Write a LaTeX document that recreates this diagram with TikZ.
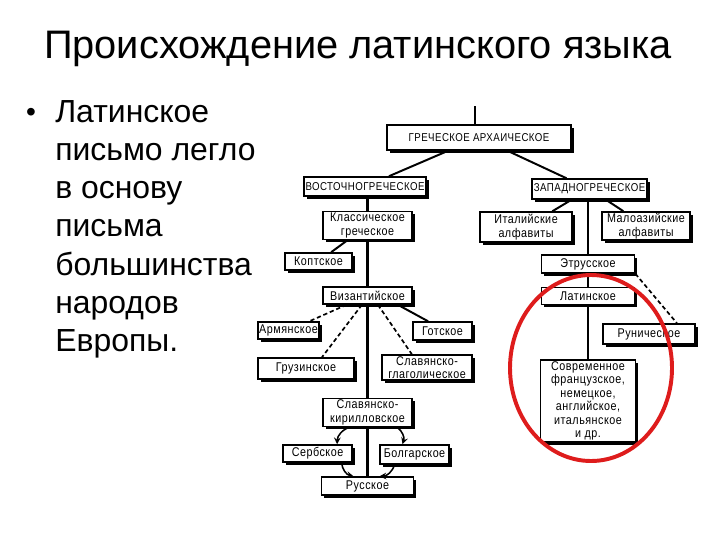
\documentclass[tikz,border=0pt]{standalone}
\usepackage{fontspec}
\setmainfont{Liberation Sans}
\newfontfamily\boxfont[FakeStretch=0.85,LetterSpace=4]{Liberation Sans}
\usetikzlibrary{shadows}
\definecolor{ring}{RGB}{222,28,28}

\begin{document}
\begin{tikzpicture}[x=0.025cm, y=-0.025cm,
  box/.style={draw, fill=white, line width=1pt, align=center, inner sep=1pt,
    font=\boxfont\fontsize{9}{9.6}\selectfont,
    drop shadow={shadow xshift=0.07cm, shadow yshift=-0.07cm, fill=black, opacity=1}},
  capsbox/.style={box, font=\boxfont\fontsize{8.1}{9.6}\selectfont},
  link/.style={line width=1.4pt},
  trunk/.style={line width=2pt},
  loan/.style={line width=1.2pt, dash pattern=on 3pt off 2pt},
  arrow/.style={->, line width=1.1pt, >=stealth}
]
  \useasboundingbox (0,0) rectangle (720,540);

  % Title and text
  \node[font=\fontsize{28.3}{32}\selectfont] (title) at (358,49) {Происхождение латинского языка};
  \node[font=\fontsize{20}{20}\selectfont] (dot) at (31,115) {•};
  \node[font=\fontsize{22.7}{27.2}\selectfont, anchor=north west, align=left, inner sep=0] (text) at (55,100)
    {Латинское\\письмо легло\\в основу\\письма\\большинства\\народов\\Европы.};

  % Greek
  \coordinate (root) at (475,106);
  \node[capsbox, minimum width=4.6cm, minimum height=0.63cm] (arch) at (479,137.5) {ГРЕЧЕСКОЕ АРХАИЧЕСКОЕ};
  \node[capsbox, minimum width=3cm, minimum height=0.48cm] (east) at (365,186.5) {ВОСТОЧНОГРЕЧЕСКОЕ};
  \node[capsbox, minimum width=2.88cm, minimum height=0.5cm] (west) at (589.5,189) {ЗАПАДНОГРЕЧЕСКОЕ};

  % Eastern branch
  \node[box, minimum width=2.22cm, minimum height=0.68cm] (classic) at (367.5,225.5) {Классическое\\греческое};
  \node[box, minimum width=1.68cm, minimum height=0.43cm] (copt) at (318.5,261.5) {Коптское};
  \node[box, minimum width=2.22cm, minimum height=0.43cm] (byz) at (367.5,295.5) {Византийское};
  \node[box, minimum width=1.53cm, minimum height=0.43cm, inner sep=0.5pt] (armen) at (288.5,330.5) {Армянское};
  \node[box, minimum width=1.48cm, minimum height=0.45cm] (goth) at (442.5,331) {Готское};
  \node[box, minimum width=2.4cm, minimum height=0.53cm] (georg) at (306,368.5) {Грузинское};
  \node[box, minimum width=2.25cm, minimum height=0.63cm] (glag) at (427,367.5) {Славянско-\\глаголическое};
  \node[box, minimum width=2.22cm, minimum height=0.63cm] (cyril) at (367.5,412.5) {Славянско-\\кирилловское};
  \node[box, minimum width=1.73cm, minimum height=0.43cm] (serb) at (317.5,453.5) {Сербское};
  \node[box, minimum width=1.73cm, minimum height=0.48cm] (bulg) at (414.5,454.5) {Болгарское};
  \node[box, minimum width=2.3cm, minimum height=0.45cm] (rus) at (367.5,486) {Русское};

  % Western branch
  \node[box, minimum width=2.3cm, minimum height=0.75cm] (ital) at (526,227) {Италийские\\алфавиты};
  \node[box, minimum width=2.2cm, minimum height=0.7cm] (maloaz) at (646,226) {Малоазийские\\алфавиты};
  \node[box, minimum width=2.33cm, minimum height=0.45cm] (etrus) at (588,264) {Этрусское};
  \node[box, minimum width=2.33cm, minimum height=0.43cm] (latin) at (588,296) {Латинское};
  \node[box, minimum width=2.3cm, minimum height=0.5cm] (runic) at (649,334) {Руническое};
  \node[box, minimum width=2.38cm, minimum height=2.05cm] (modern) at (588,401)
    {Современное\\французское,\\немецкое,\\английское,\\итальянское\\и др.};

  % Links
  \draw[link] (root) -- (root |- arch.north);
  \draw[link] (arch) -- (east);
  \draw[link] (arch) -- (west);
  \draw[trunk] (classic |- east.south) -- (classic.north);
  \draw[link] (classic) -- (copt);
  \draw[trunk] (classic) -- (byz);
  \draw[trunk] (byz) -- (cyril);
  \draw[trunk] (cyril) -- (rus);
  \draw[loan] (byz) -- (armen);
  \draw[loan] ([xshift=-0.14cm]byz.south) -- ([xshift=0.4cm]georg.north);
  \draw[loan] ([xshift=0.26cm]byz.south) -- ([xshift=-0.38cm]glag.north);
  \draw[link] ([xshift=0.76cm]byz.south) -- ([xshift=-0.36cm]goth.north);
  \draw[arrow] ([xshift=-0.44cm]cyril.south) to[bend right=35] ([xshift=0.49cm]serb.north);
  \draw[arrow] ([xshift=0.74cm]cyril.south) to[bend left=35] ([xshift=-0.3cm]bulg.north);
  \draw[arrow] ([xshift=0.6cm]serb.south) to[bend right=35] ([xshift=-0.35cm]rus.north);
  \draw[arrow] ([xshift=-0.5cm]bulg.south) to[bend left=35] ([xshift=0.3cm]rus.north);
  \draw[link] (west) -- (ital);
  \draw[link] (west) -- (maloaz);
  \draw[trunk] (etrus |- west.south) -- (etrus.north);
  \draw[trunk] (etrus) -- (latin);
  \draw[trunk] (latin) -- (modern);
  \draw[loan] (etrus.south east) -- ([xshift=0.7cm]runic.north);

  % Ring
  \draw[ring, line width=2.8pt] (591,368) ellipse [x radius=81, y radius=93];
\end{tikzpicture}
\end{document}
